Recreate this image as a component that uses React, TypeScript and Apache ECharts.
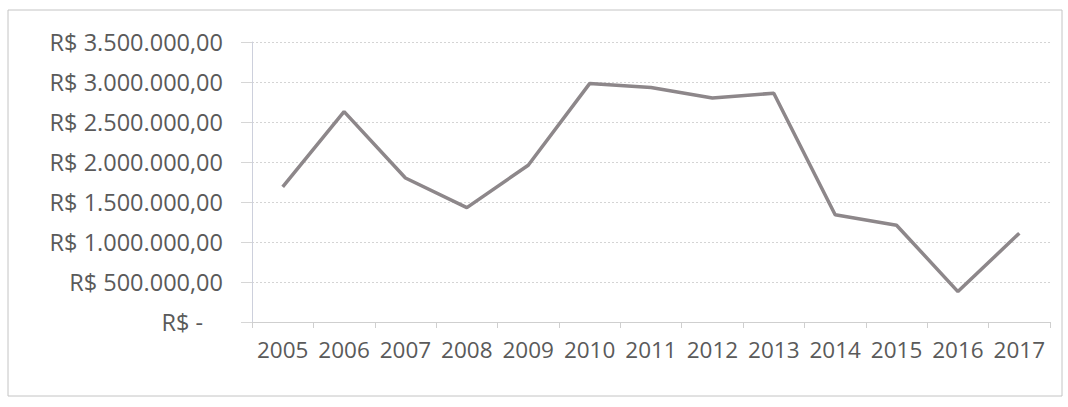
import React, { useEffect, useRef } from "react";
import * as echarts from "echarts";

const years = ["2005", "2006", "2007", "2008", "2009", "2010", "2011", "2012", "2013", "2014", "2015", "2016", "2017"];
const values = [1690000, 2630000, 1800000, 1430000, 1960000, 2980000, 2930000, 2800000, 2860000, 1340000, 1210000, 380000, 1110000];
const yMin = 0;
const yMax = 3500000;
const yStep = 500000;

function fmtBRL(v: number): string {
  if (v === 0) return "{z|R$ -}";
  const s = Math.round(v).toString().replace(/\B(?=(\d{3})+(?!\d))/g, ".");
  return "R$ " + s + ",00";
}

export default function App() {
  const ref = useRef<HTMLDivElement>(null);
  useEffect(() => {
    if (!ref.current) return;
    const chart = echarts.init(ref.current, undefined, { renderer: "svg" });
    const font = "'Open Sans', Lato, sans-serif";
    chart.setOption({
      animation: false,
      backgroundColor: "#ffffff",
      graphic: [
        {
          type: "rect",
          shape: { x: 8, y: 10, width: 1054, height: 386 },
          style: { fill: "none", stroke: "#c4c4c4", lineWidth: 1 },
          silent: true,
        },
      ],
      grid: { left: 252, right: 18, top: 42, bottom: 85, containLabel: false },
      xAxis: {
        type: "category",
        data: years,
        boundaryGap: true,
        axisLine: { show: true, lineStyle: { color: "#cfcfcf", width: 1 } },
        axisTick: { show: true, alignWithLabel: false, length: 6, inside: false, lineStyle: { color: "#cfcfcf" } },
        axisLabel: { color: "#5a5a5a", fontFamily: font, fontSize: 22.5, margin: 16, interval: 0 },
        splitLine: { show: false },
      },
      yAxis: {
        type: "value",
        min: yMin,
        max: yMax,
        interval: yStep,
        axisLine: { show: true, lineStyle: { color: "#cdd0dc", width: 1 } },
        axisTick: { show: true, length: 11, lineStyle: { color: "#d6d6d6" } },
        axisLabel: {
          color: "#5a5a5a",
          fontFamily: font,
          fontSize: 23.5,
          margin: 29,
          formatter: (v: number) => fmtBRL(v),
          rich: { z: { color: "#5a5a5a", fontFamily: font, fontSize: 23.5, padding: [0, 20, 0, 0] } },
        },
        splitLine: { show: true, lineStyle: { color: "#d4d4d4", width: 1, type: [2, 2] } },
      },
      series: [
        {
          type: "line",
          data: values,
          symbol: "none",
          lineStyle: { color: "#8d878a", width: 3.5 },
          itemStyle: { color: "#8d878a" },
        },
      ],
    });
    return () => chart.dispose();
  }, []);
  return <div ref={ref} style={{ position: "fixed", left: 0, top: 0, width: 1068, height: 407 }} />;
}
